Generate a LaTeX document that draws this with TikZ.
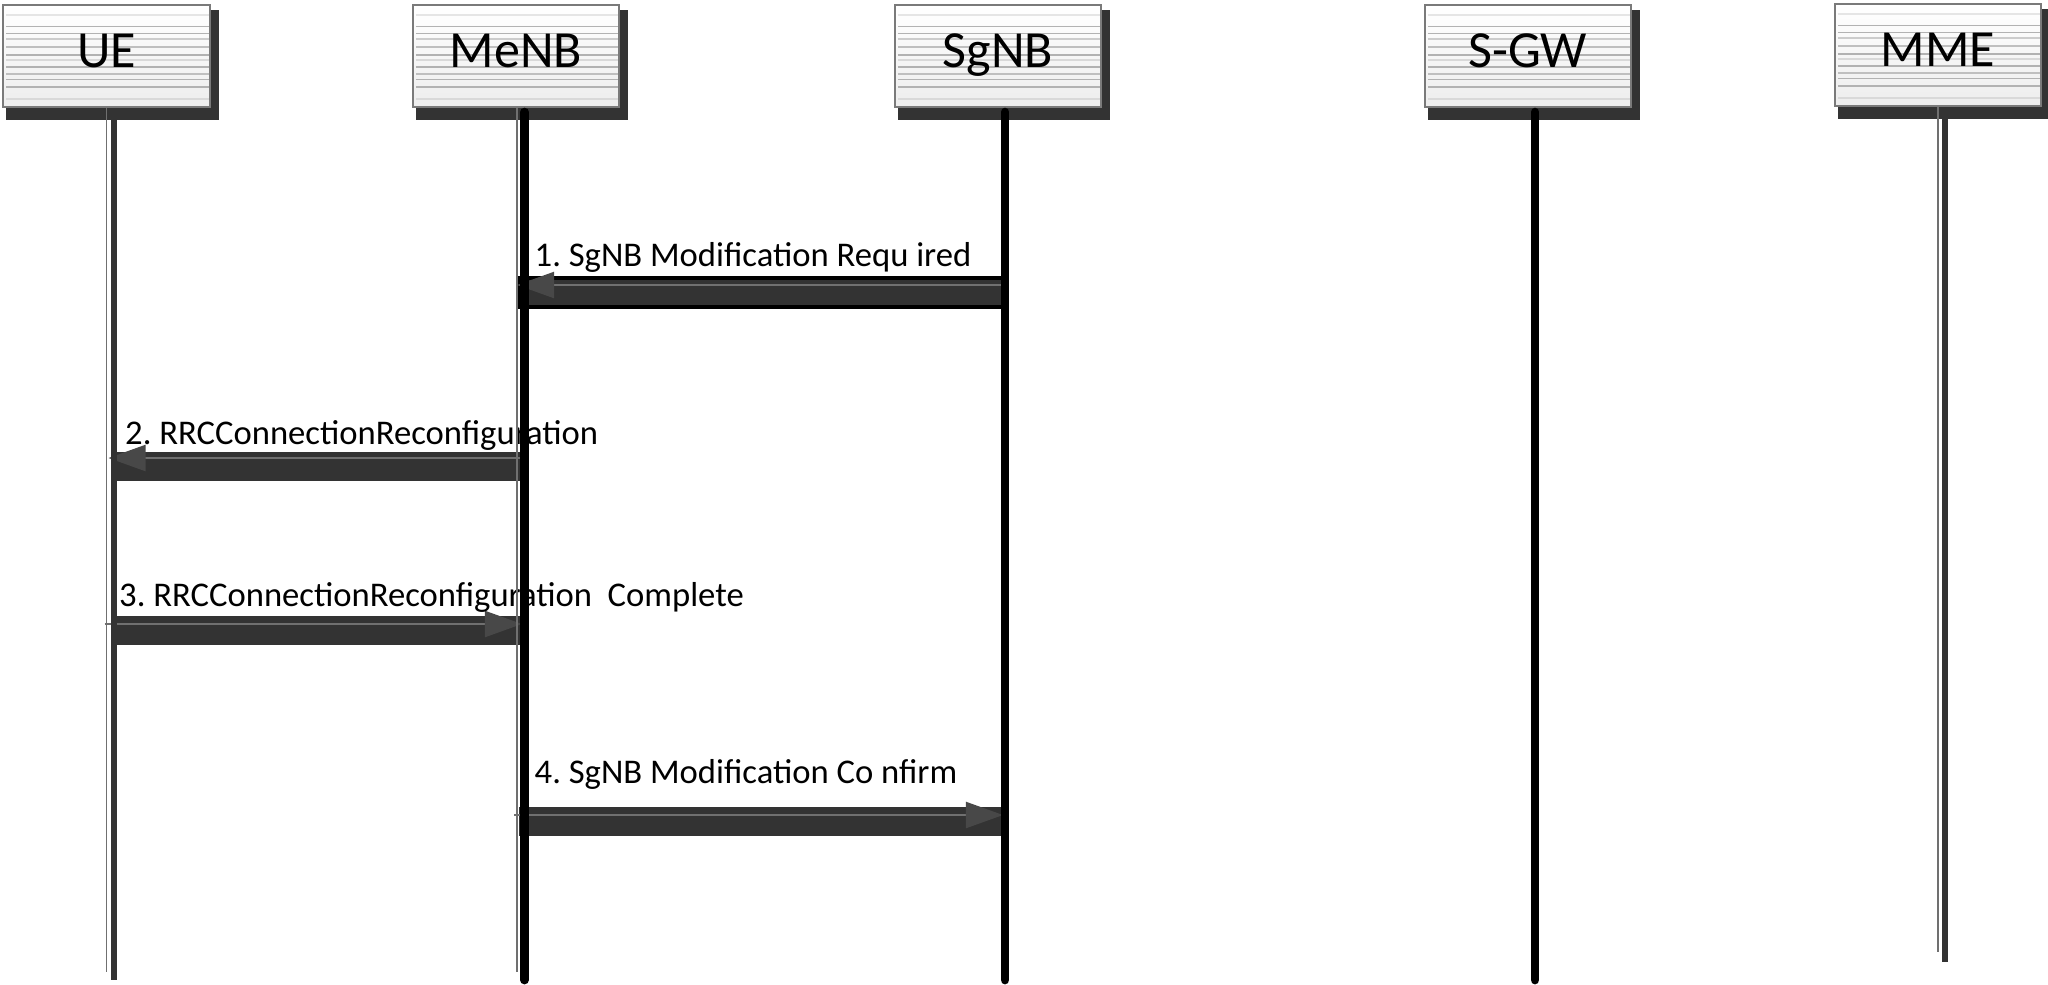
\documentclass[tikz,border=0pt]{standalone}
\usepackage{fontspec}
\setmainfont{Carlito}
\usepackage{tikz}
\usetikzlibrary{arrows.meta,calc,backgrounds}
\frenchspacing
\definecolor{shadowgray}{HTML}{333333}
\definecolor{headtip}{HTML}{484848}
\definecolor{thinline}{HTML}{707070}
\definecolor{boxline}{HTML}{7A7A7A}
\definecolor{boxbot}{HTML}{EDEDED}
\tikzset{
  entity/.style={draw=boxline,line width=.6pt,top color=white,bottom color=boxbot,minimum width=2.06cm,minimum height=1.02cm,inner sep=0pt,text height=.63em,text depth=0pt,font=\fontsize{14.8}{16}\selectfont,
    path picture={\foreach \f/\g in {.10/10,.21/30,.28/30,.33/20,.41/25,.49/30,.54/15,.61/30,.68/25,.73/30,.80/30,.92/15}
      \draw[black!\g,line width=.5pt] ($(path picture bounding box.north west)!\f!(path picture bounding box.south west)+(3,0)$) -- ($(path picture bounding box.north east)!\f!(path picture bounding box.south east)$);}},
  msgbar/.style={fill=shadowgray},
  msgline/.style={draw=thinline,line width=.6pt,-{Triangle[length=.37cm,width=.26cm,color=headtip]}},
  msglabel/.style={anchor=west,inner sep=0pt,font=\fontsize{9.85}{12}\selectfont},
  thinlife/.style={draw=thinline,line width=.5pt},
  greylife/.style={draw=shadowgray,line width=1.6pt},
  blacklife/.style={draw=black,line width=2.5pt,line cap=round},
}
\begin{document}
\begin{tikzpicture}[x=0.01cm,y=-0.01cm]
  \useasboundingbox (0,0) rectangle (2048,984);
  % entities
  \node[entity] (ue) at (106.5,56) {UE};
  \node[entity] (menb) at (516,56) {MeNB};
  \node[entity] (sgnb) at (998,56) {SgNB};
  \node[entity] (sgw) at (1528,56) {S-GW};
  \node[entity] (mme) at (1938,55) {MME};
  \begin{scope}[on background layer]
    \foreach \n in {ue,menb,sgnb,sgw,mme}
      \fill[shadowgray] ($(\n.south west)+(4,12)$) rectangle ($(\n.north east)+(8,6)$);
  \end{scope}
  \coordinate (r1) at (0,285);
  \coordinate (r2) at (0,458);
  \coordinate (r3) at (0,624);
  \coordinate (r4) at (0,815);
  \coordinate (bot) at (0,980);
  % 1: SgNB -> MeNB
  \filldraw[msgbar,draw=black,line width=.9pt] ($(menb |- r1)+(3,-7)$) rectangle ($(sgnb |- r1)+(9,22)$);
  \draw[msgline] ($(sgnb |- r1)+(7,0)$) -- ($(menb |- r1)+(1,0)$);
  \node[msglabel] (l1) at ($(menb |- r1)+(18,-28)$) {1. SgNB Modification Requ ired};
  % 2: MeNB -> UE
  \fill[msgbar] ($(ue |- r2)+(4.5,-6)$) rectangle ($(menb |- r2)+(9,23)$);
  \draw[msgline] ($(menb |- r2)+(9,0)$) -- ($(ue |- r2)+(2,0)$);
  \node[msglabel] (l2) at ($(ue |- r2)+(18,-23)$) {2. RRCConnectionReconfiguration};
  % 3: UE -> MeNB
  \fill[msgbar] ($(ue |- r3)+(4.5,-8)$) rectangle ($(menb |- r3)+(9,21)$);
  \draw[msgline] ($(ue |- r3)+(-2,0)$) -- ($(menb |- r3)+(6,0)$);
  \node[msglabel] (l3) at ($(ue |- r3)+(12,-27)$) {3. RRCConnectionReconfiguration~ Complete};
  % 4: MeNB -> SgNB
  \fill[msgbar] ($(menb |- r4)+(3,-8)$) rectangle ($(sgnb |- r4)+(9,21)$);
  \draw[msgline] ($(menb |- r4)+(-2,0)$) -- ($(sgnb |- r4)+(5,0)$);
  \node[msglabel] (l4) at ($(menb |- r4)+(18,-41)$) {4. SgNB Modification Co nfirm};
  % lifelines
  \draw[thinlife] (ue.south) -- ($(ue |- bot)+(0,-8)$);
  \draw[greylife] ($(ue.south)+(7.5,0)$) -- ($(ue |- bot)+(7.5,0)$);
  \draw[thinlife] ($(menb.south)+(1,0)$) -- ($(menb |- bot)+(1,-8)$);
  \draw[blacklife] ($(menb.south)+(8.5,4)$) -- ($(menb |- bot)+(8.5,0)$);
  \draw[blacklife] ($(sgnb.south)+(7,4)$) -- ($(sgnb |- bot)+(7,0)$);
  \draw[blacklife] ($(sgw.south)+(7,4)$) -- ($(sgw |- bot)+(7,0)$);
  \draw[thinlife] (mme.south) -- ($(mme |- bot)+(0,-28)$);
  \draw[greylife] ($(mme.south)+(7,0)$) -- ($(mme |- bot)+(7,-18)$);
\end{tikzpicture}
\end{document}
